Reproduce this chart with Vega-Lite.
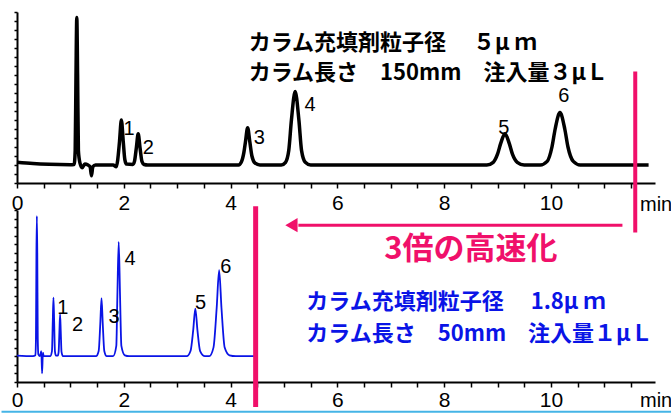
{
  "$schema": "https://vega.github.io/schema/vega-lite/v6.json",
  "background": "white",
  "padding": {"left": 0, "top": 11, "right": 0, "bottom": 0},
  "spacing": 27,
  "bounds": "flush",
  "config": {
    "view": {"stroke": null},
    "axis": {"grid": false, "domainColor": "black", "tickColor": "black", "labelColor": "black", "titleColor": "black"}
  },
  "datasets": {
    "top": [
      {"t": 0, "v": 1.5}, {"t": 0.3, "v": 0.8}, {"t": 0.6, "v": 0.4}, {"t": 1.0, "v": 0.2}, {"t": 1.07, "v": 0.3},
      {"t": 1.09, "v": 8}, {"t": 1.105, "v": 50}, {"t": 1.12, "v": 82}, {"t": 1.135, "v": 50}, {"t": 1.15, "v": 8},
      {"t": 1.18, "v": 1}, {"t": 1.22, "v": -1.5}, {"t": 1.27, "v": 0.5}, {"t": 1.33, "v": 0}, {"t": 1.37, "v": -1},
      {"t": 1.395, "v": -6}, {"t": 1.42, "v": -1}, {"t": 1.47, "v": 0}, {"t": 1.8, "v": 0}, {"t": 1.86, "v": -1},
      {"t": 1.885, "v": 2.5}, {"t": 1.92, "v": 13}, {"t": 1.955, "v": 25}, {"t": 1.99, "v": 13}, {"t": 2.02, "v": 3},
      {"t": 2.05, "v": 0.5}, {"t": 2.17, "v": 0.3}, {"t": 2.2, "v": 2}, {"t": 2.235, "v": 9.5}, {"t": 2.27, "v": 17.3},
      {"t": 2.305, "v": 9.5}, {"t": 2.34, "v": 2}, {"t": 2.38, "v": 0.3}, {"t": 2.45, "v": 0},
      {"t": 4.15, "v": 0}, {"t": 4.2, "v": 1.5}, {"t": 4.25, "v": 7}, {"t": 4.28, "v": 13}, {"t": 4.32, "v": 20.7},
      {"t": 4.36, "v": 13}, {"t": 4.4, "v": 5}, {"t": 4.46, "v": 1}, {"t": 4.55, "v": 0},
      {"t": 4.95, "v": 0}, {"t": 5.03, "v": 1.5}, {"t": 5.09, "v": 8}, {"t": 5.14, "v": 25}, {"t": 5.21, "v": 40.8},
      {"t": 5.28, "v": 25}, {"t": 5.33, "v": 8}, {"t": 5.4, "v": 1.5}, {"t": 5.5, "v": 0},
      {"t": 8.8, "v": 0}, {"t": 8.92, "v": 1.5}, {"t": 9.0, "v": 6}, {"t": 9.06, "v": 12}, {"t": 9.14, "v": 17.3},
      {"t": 9.22, "v": 12}, {"t": 9.28, "v": 6}, {"t": 9.37, "v": 1.5}, {"t": 9.5, "v": 0},
      {"t": 9.8, "v": 0}, {"t": 9.93, "v": 2}, {"t": 10.02, "v": 10}, {"t": 10.08, "v": 20}, {"t": 10.17, "v": 29.1},
      {"t": 10.26, "v": 20}, {"t": 10.32, "v": 10}, {"t": 10.42, "v": 2}, {"t": 10.55, "v": 0}, {"t": 11.83, "v": 0}
    ],
    "topLabels": [
      {"t": 2.1, "v": 20.1, "label": "1"}, {"t": 2.46, "v": 9.5, "label": "2"}, {"t": 4.54, "v": 15.1, "label": "3"},
      {"t": 5.49, "v": 33.5, "label": "4"}, {"t": 9.12, "v": 20.7, "label": "5"}, {"t": 10.24, "v": 38.6, "label": "6"}
    ],
    "topText": [
      {"t": 4.34, "v": 67.6, "label": "カラム充填剤粒子径　 ５μ ｍ"},
      {"t": 4.34, "v": 50.9, "label": "カラム長さ　150mm　注入量３μＬ"}
    ],
    "topPink": [{"t": 11.58, "v": 51.9, "v2": -37.5}],
    "bottom": [
      {"t": 0, "v": 0.3}, {"t": 0.3, "v": 0}, {"t": 0.345, "v": 0.5}, {"t": 0.355, "v": 10}, {"t": 0.364, "v": 60},
      {"t": 0.372, "v": 81.4}, {"t": 0.38, "v": 60}, {"t": 0.389, "v": 10}, {"t": 0.4, "v": 1}, {"t": 0.43, "v": 0},
      {"t": 0.455, "v": 3}, {"t": 0.47, "v": -10}, {"t": 0.485, "v": 2}, {"t": 0.5, "v": 0},
      {"t": 0.62, "v": 0}, {"t": 0.655, "v": 3}, {"t": 0.67, "v": 20}, {"t": 0.683, "v": 34.1}, {"t": 0.696, "v": 20},
      {"t": 0.71, "v": 3}, {"t": 0.73, "v": 0.3}, {"t": 0.765, "v": 0.3}, {"t": 0.78, "v": 2.5}, {"t": 0.794, "v": 14},
      {"t": 0.807, "v": 24.4}, {"t": 0.82, "v": 14}, {"t": 0.834, "v": 2.5}, {"t": 0.86, "v": 0},
      {"t": 1.48, "v": 0}, {"t": 1.53, "v": 3}, {"t": 1.56, "v": 19}, {"t": 1.583, "v": 33.7}, {"t": 1.606, "v": 19},
      {"t": 1.635, "v": 3}, {"t": 1.68, "v": 0},
      {"t": 1.8, "v": 0}, {"t": 1.86, "v": 6}, {"t": 1.88, "v": 35}, {"t": 1.905, "v": 66.5}, {"t": 1.93, "v": 35},
      {"t": 1.955, "v": 6}, {"t": 2.02, "v": 0.5}, {"t": 2.1, "v": 0},
      {"t": 3.18, "v": 0}, {"t": 3.25, "v": 3}, {"t": 3.3, "v": 15}, {"t": 3.34, "v": 27.7}, {"t": 3.38, "v": 15},
      {"t": 3.43, "v": 3}, {"t": 3.52, "v": 0},
      {"t": 3.6, "v": 0}, {"t": 3.68, "v": 5}, {"t": 3.74, "v": 28}, {"t": 3.786, "v": 50}, {"t": 3.83, "v": 28},
      {"t": 3.89, "v": 5}, {"t": 3.98, "v": 0.5}, {"t": 4.1, "v": 0}, {"t": 4.45, "v": 0}
    ],
    "bottomLabels": [
      {"t": 0.857, "v": 27.9, "label": "1"}, {"t": 1.136, "v": 18, "label": "2"}, {"t": 1.82, "v": 22.7, "label": "3"},
      {"t": 2.12, "v": 56.4, "label": "4"}, {"t": 3.44, "v": 31, "label": "5"}, {"t": 3.91, "v": 51.9, "label": "6"}
    ],
    "bottomText": [
      {"t": 5.42, "v": 31.4, "label": "カラム充填剤粒子径　 1.8μ ｍ"},
      {"t": 5.42, "v": 12.8, "label": "カラム長さ　50mm　注入量１μＬ"}
    ],
    "bottomPink": [{"t": 4.47, "v": 87.2, "v2": -29.5}],
    "arrow": [{"t": 5.27, "t2": 11.34, "v": 76.2}],
    "arrowHead": [{"t": 5.14, "v": 76.2}],
    "speed": [{"t": 8.5, "v": 61.6, "label": "3倍の高速化"}],
    "cyan": [{"t": -0.29, "t2": 12.27, "v": -32.3}]
  },
  "vconcat": [
    {
      "width": 638,
      "height": 171,
      "encoding": {
        "x": {"field": "t", "type": "quantitative", "scale": {"domain": [0, 11.95], "nice": false, "zero": false},
          "axis": {"values": [0,0.5,1,1.5,2,2.5,3,3.5,4,4.5,5,5.5,6,6.5,7,7.5,8,8.5,9,9.5,10,10.5,11,11.5],
            "labelExpr": "datum.value % 2 === 0 ? '' + datum.value : ''", "labelFlush": false, "labelDx": 5,
            "labelFont": "Liberation Sans", "labelFontSize": 21, "labelPadding": 4, "tickSize": 5, "tickWidth": 1.5,
            "domainWidth": 2, "title": "min", "titleX": 622.5, "titleY": 21.5, "titleAlign": "left", "titleBaseline": "middle",
            "titleFont": "Liberation Sans", "titleFontSize": 20, "titleFontWeight": "normal", "titleAnchor": null}},
        "y": {"field": "v", "type": "quantitative", "scale": {"domain": [-10, 85], "nice": false, "zero": false},
          "axis": {"labels": false, "title": null, "tickCount": 24, "tickSize": 3, "tickWidth": 1.5, "domainWidth": 2}}
      },
      "layer": [
        {"data": {"name": "top"}, "mark": {"type": "line", "color": "black", "strokeWidth": 3.5, "interpolate": "monotone", "strokeJoin": "round"}},
        {"data": {"name": "topLabels"}, "mark": {"type": "text", "font": "Liberation Sans", "fontSize": 20, "color": "black", "align": "center", "baseline": "middle"}, "encoding": {"text": {"field": "label"}}},
        {"data": {"name": "topText"}, "mark": {"type": "text", "font": "Noto Sans CJK JP", "fontSize": 22, "fontWeight": "bold", "color": "black", "align": "left", "baseline": "middle"}, "encoding": {"text": {"field": "label"}}},
        {"data": {"name": "topPink"}, "mark": {"type": "rule", "color": "#f0106a", "strokeWidth": 4}, "encoding": {"y2": {"field": "v2"}}}
      ]
    },
    {
      "width": 638,
      "height": 172,
      "encoding": {
        "x": {"field": "t", "type": "quantitative", "scale": {"domain": [0, 11.95], "nice": false, "zero": false},
          "axis": {"values": [0,0.5,1,1.5,2,2.5,3,3.5,4,4.5,5,5.5,6,6.5,7,7.5,8,8.5,9,9.5,10,10.5,11,11.5],
            "labelExpr": "datum.value % 2 === 0 ? '' + datum.value : ''", "labelFlush": false, "labelDx": 5,
            "labelFont": "Liberation Sans", "labelFontSize": 21, "labelPadding": 2, "tickSize": 5, "tickWidth": 1.5,
            "domainWidth": 2, "title": "min", "titleX": 622.5, "titleY": 18, "titleAlign": "left", "titleBaseline": "middle",
            "titleFont": "Liberation Sans", "titleFontSize": 20, "titleFontWeight": "normal", "titleAnchor": null}},
        "y": {"field": "v", "type": "quantitative", "scale": {"domain": [-15, 85], "nice": false, "zero": false},
          "axis": {"labels": false, "title": null, "tickCount": 24, "tickSize": 3, "tickWidth": 1.5, "domainWidth": 2}}
      },
      "layer": [
        {"data": {"name": "bottom"}, "mark": {"type": "line", "color": "#0a14e6", "strokeWidth": 1.8, "interpolate": "monotone"}},
        {"data": {"name": "bottomLabels"}, "mark": {"type": "text", "font": "Liberation Sans", "fontSize": 20, "color": "black", "align": "center", "baseline": "middle"}, "encoding": {"text": {"field": "label"}}},
        {"data": {"name": "bottomText"}, "mark": {"type": "text", "font": "Noto Sans CJK JP", "fontSize": 22, "fontWeight": "bold", "color": "#0a14e6", "align": "left", "baseline": "middle"}, "encoding": {"text": {"field": "label"}}},
        {"data": {"name": "bottomPink"}, "mark": {"type": "rule", "color": "#f0106a", "strokeWidth": 5}, "encoding": {"y2": {"field": "v2"}}},
        {"data": {"name": "arrow"}, "mark": {"type": "rule", "color": "#f0106a", "strokeWidth": 3}, "encoding": {"x2": {"field": "t2"}}},
        {"data": {"name": "arrowHead"}, "mark": {"type": "point", "shape": "triangle-left", "filled": true, "color": "#f0106a", "size": 200, "opacity": 1}},
        {"data": {"name": "speed"}, "mark": {"type": "text", "font": "Noto Sans CJK JP", "fontSize": 31, "fontWeight": "bold", "color": "#f0106a", "align": "center", "baseline": "middle"}, "encoding": {"text": {"field": "label"}}},
        {"data": {"name": "cyan"}, "mark": {"type": "rule", "color": "#45b4e6", "strokeWidth": 2}, "encoding": {"x2": {"field": "t2"}}}
      ]
    }
  ]
}
